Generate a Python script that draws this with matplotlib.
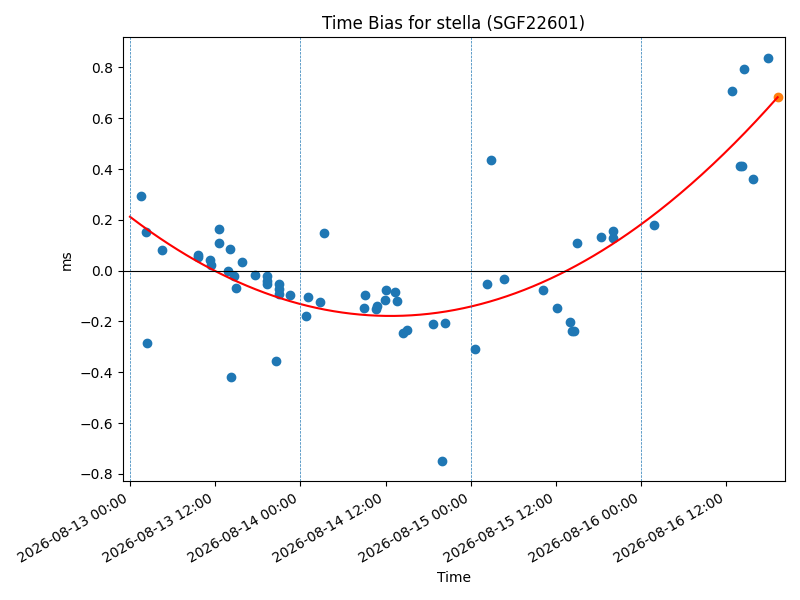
import matplotlib
matplotlib.use("Agg")
import matplotlib.pyplot as plt
import matplotlib.dates as mdates
import numpy as np
import pandas as pd

tiempos = [
    "2026-08-13 01:30", "2026-08-13 02:12", "2026-08-13 02:20", "2026-08-13 04:28",
    "2026-08-13 09:32", "2026-08-13 09:38", "2026-08-13 11:14", "2026-08-13 11:26",
    "2026-08-13 12:31", "2026-08-13 12:31", "2026-08-13 13:47", "2026-08-13 14:04",
    "2026-08-13 14:12", "2026-08-13 14:38", "2026-08-13 14:55", "2026-08-13 15:46",
    "2026-08-13 17:33", "2026-08-13 19:17", "2026-08-13 19:17", "2026-08-13 19:20",
    "2026-08-13 20:34", "2026-08-13 20:56", "2026-08-13 20:56", "2026-08-13 20:59",
    "2026-08-13 22:32", "2026-08-14 00:47", "2026-08-14 01:04", "2026-08-14 02:46",
    "2026-08-14 03:20", "2026-08-14 08:59", "2026-08-14 09:07", "2026-08-14 10:40",
    "2026-08-14 10:44", "2026-08-14 11:56", "2026-08-14 12:05", "2026-08-14 13:22",
    "2026-08-14 13:38", "2026-08-14 14:29", "2026-08-14 15:03", "2026-08-14 18:43",
    "2026-08-14 19:59", "2026-08-14 20:25", "2026-08-15 00:39", "2026-08-15 02:20",
    "2026-08-15 02:52", "2026-08-15 04:44", "2026-08-15 10:15", "2026-08-15 12:05",
    "2026-08-15 13:55", "2026-08-15 14:18", "2026-08-15 14:35", "2026-08-15 14:55",
    "2026-08-15 18:18", "2026-08-15 19:59", "2026-08-15 19:59", "2026-08-16 01:47",
    "2026-08-16 12:47", "2026-08-16 13:53", "2026-08-16 14:10", "2026-08-16 14:29",
    "2026-08-16 15:46", "2026-08-16 17:50",
]
sesgo_ms = [
    0.293, 0.153, -0.286, 0.081,
    0.062, 0.055, 0.042, 0.021,
    0.164, 0.110, 0.000, 0.085,
    -0.417, -0.021, -0.067, 0.035,
    -0.017, -0.021, -0.039, -0.052,
    -0.354, -0.052, -0.072, -0.091,
    -0.095, -0.180, -0.102, -0.122,
    0.148, -0.146, -0.095, -0.152,
    -0.138, -0.115, -0.076, -0.084,
    -0.119, -0.244, -0.233, -0.209,
    -0.750, -0.205, -0.307, -0.051,
    0.434, -0.033, -0.075, -0.146,
    -0.201, -0.236, -0.236, 0.109,
    0.132, 0.157, 0.128, 0.180,
    0.709, 0.411, 0.411, 0.795,
    0.361, 0.839,
]
# Predicción al final del ajuste
tiempo_pred = "2026-08-16 19:14"
# Límites de días (líneas verticales)
dias = ["2026-08-13", "2026-08-14", "2026-08-15", "2026-08-16"]
inicio_ajuste = "2026-08-13 00:00"

t = pd.to_datetime(tiempos)
x = mdates.date2num(t.to_pydatetime())
y = np.array(sesgo_ms)

# Ajuste cuadrático sobre los datos
coef = np.polyfit(x, y, 2)
t_pred = pd.Timestamp(tiempo_pred).to_pydatetime()
x_fit = np.linspace(mdates.date2num(pd.Timestamp(inicio_ajuste).to_pydatetime()),
                    mdates.date2num(t_pred), 300)
y_fit = np.polyval(coef, x_fit)

fig, ax = plt.subplots(figsize=(8, 6), dpi=100)
ax.scatter(t, y)
ax.plot(mdates.num2date(x_fit), y_fit, color="red")
ax.scatter([t_pred], [np.polyval(coef, mdates.date2num(t_pred))], color="C1")

for d in dias:
    ax.axvline(pd.Timestamp(d).to_pydatetime(), linestyle="--", linewidth=0.5)
ax.axhline(0, color="black", linewidth=0.8)

# Límites: margen del 5 % en y sobre los datos
rango = y.max() - y.min()
ax.set_ylim(y.min() - 0.05 * rango, y.max() + 0.05 * rango)
ax.set_xlim(pd.Timestamp("2026-08-12 22:59").to_pydatetime(),
            pd.Timestamp("2026-08-16 20:16").to_pydatetime())
ax.xaxis.set_major_locator(mdates.HourLocator(byhour=[0, 12]))
ax.xaxis.set_major_formatter(mdates.DateFormatter("%Y-%m-%d %H:%M"))
fig.autofmt_xdate()

ax.set_title("Time Bias for stella (SGF22601)")
ax.set_xlabel("Time")
ax.set_ylabel("ms")
plt.tight_layout()
plt.savefig("out.png", dpi=100)
